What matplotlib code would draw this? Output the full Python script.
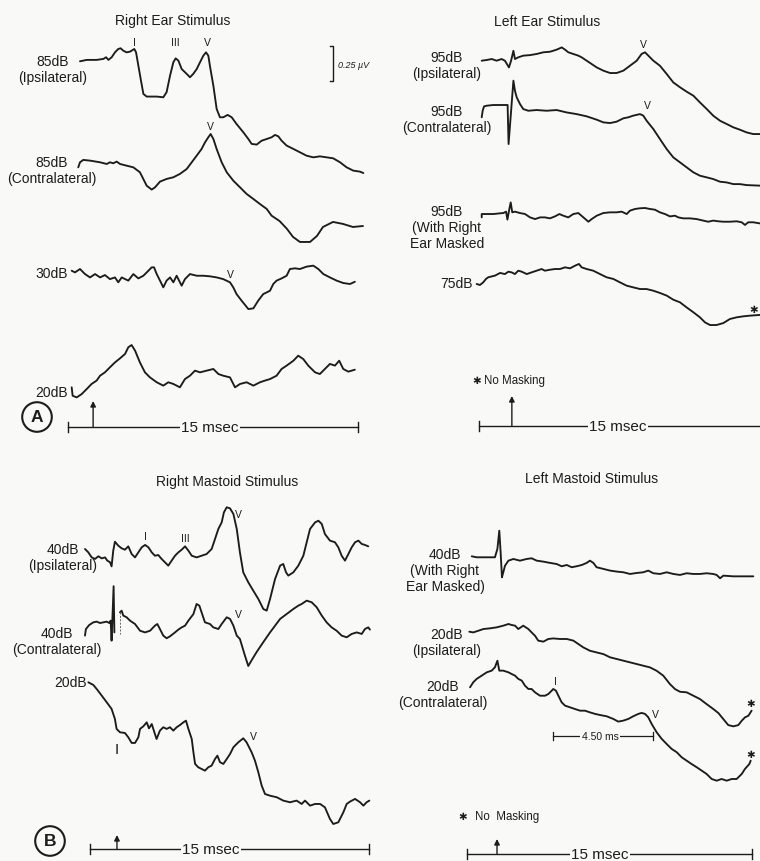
import numpy as np
import matplotlib.pyplot as plt

plt.rcParams['font.family'] = ['Liberation Sans', 'DejaVu Sans']

W, H = 760, 862          # output size in pixels
PX_PER_UV = 140.0        # vertical gain: 0.25 uV = 35 px
INK = '#1c1c1c'
BG = '#f9f9f7'

# ---------------- traces: (time in ms, amplitude in uV) ----------------
# Right ear stimulus
re85_ipsi = [(0.62, 0), (0.97, 0.01), (1.48, 0.01), (1.83, 0.017), (1.97, 0.029), (2.09, 0.01),
             (2.26, 0.029), (2.43, 0.064), (2.60, 0.088), (2.72, 0.093), (2.86, 0.076), (3.03, 0.064),
             (3.21, 0.069), (3.43, 0.088), (3.52, 0.064), (3.64, -0.031), (3.76, -0.126), (3.90, -0.233),
             (4.07, -0.252), (4.59, -0.252), (4.93, -0.257), (5.10, -0.221), (5.28, -0.102), (5.45, -0.007),
             (5.57, 0.021), (5.71, 0.005), (5.88, -0.055), (6.14, -0.090), (6.31, -0.114), (6.48, -0.090),
             (6.66, -0.055), (6.83, -0.007), (7.00, 0.040), (7.14, 0.064), (7.26, 0.040), (7.34, -0.031),
             (7.52, -0.174), (7.69, -0.340), (7.86, -0.400), (8.03, -0.400), (8.26, -0.383), (8.47, -0.400),
             (8.72, -0.448), (9.07, -0.507), (9.33, -0.555), (9.50, -0.590), (9.76, -0.595), (10.02, -0.567),
             (10.28, -0.555), (10.53, -0.543), (10.71, -0.526), (10.88, -0.536), (11.05, -0.567),
             (11.31, -0.602), (11.66, -0.626), (12.00, -0.650), (12.34, -0.674), (12.69, -0.686),
             (13.03, -0.679), (13.38, -0.686), (13.72, -0.693), (14.07, -0.721), (14.41, -0.757),
             (14.76, -0.781), (15.10, -0.788), (15.28, -0.798)]
re85_contra = [(0.53, -0.036), (0.62, 0), (0.79, 0.017), (1.14, 0.012), (1.66, 0), (2.00, -0.012),
               (2.17, 0), (2.34, -0.007), (2.52, 0.005), (2.69, -0.012), (3.03, -0.024), (3.38, -0.036),
               (3.72, -0.071), (4.07, -0.167), (4.33, -0.195), (4.50, -0.179), (4.76, -0.138),
               (5.10, -0.119), (5.45, -0.107), (5.79, -0.083), (6.14, -0.048), (6.40, 0), (6.66, 0.048),
               (6.91, 0.095), (7.09, 0.143), (7.26, 0.179), (7.38, 0.202), (7.52, 0.167), (7.69, 0.095),
               (7.95, 0), (8.21, -0.071), (8.55, -0.131), (8.90, -0.179), (9.24, -0.226), (9.59, -0.262),
               (9.93, -0.298), (10.28, -0.333), (10.53, -0.381), (10.95, -0.420), (11.33, -0.476),
               (11.64, -0.533), (12.00, -0.569), (12.52, -0.569), (12.88, -0.526), (13.19, -0.462),
               (13.71, -0.426), (14.22, -0.440), (14.74, -0.462), (15.26, -0.455)]
re30 = [(0.19, 0), (0.36, -0.012), (0.62, 0.012), (0.88, -0.024), (1.14, -0.048), (1.40, -0.024),
        (1.66, -0.048), (1.91, -0.031), (2.17, -0.060), (2.43, -0.048), (2.60, -0.083), (2.78, -0.048),
        (3.12, -0.071), (3.38, -0.024), (3.64, -0.055), (3.90, -0.036), (4.16, 0), (4.33, 0.024),
        (4.45, 0.024), (4.59, -0.024), (4.76, -0.071), (4.93, -0.119), (5.10, -0.071), (5.28, -0.048),
        (5.45, -0.083), (5.62, -0.036), (5.88, -0.107), (6.05, -0.060), (6.31, -0.024), (6.66, -0.036),
        (7.00, -0.036), (7.34, -0.040), (7.69, -0.048), (8.03, -0.060), (8.38, -0.083), (8.55, -0.119),
        (8.72, -0.167), (8.98, -0.214), (9.33, -0.274), (9.59, -0.269), (9.84, -0.214), (10.10, -0.167),
        (10.28, -0.155), (10.45, -0.143), (10.62, -0.095), (10.79, -0.071), (11.05, -0.055),
        (11.31, -0.036), (11.48, 0.012), (11.74, 0.017), (12.00, 0.012), (12.34, 0.029), (12.69, 0.036),
        (12.95, 0.012), (13.21, -0.024), (13.55, -0.048), (13.90, -0.071), (14.24, -0.088),
        (14.59, -0.095), (14.84, -0.079)]
re20 = [(0.19, 0.012), (0.24, -0.048), (0.45, -0.060), (0.71, -0.036), (0.97, 0), (1.22, 0.036),
        (1.48, 0.060), (1.66, 0.095), (1.91, 0.119), (2.17, 0.155), (2.43, 0.190), (2.69, 0.219),
        (2.95, 0.250), (3.12, 0.298), (3.29, 0.314), (3.47, 0.274), (3.72, 0.190), (3.98, 0.119),
        (4.24, 0.083), (4.59, 0.048), (4.93, 0.024), (5.19, 0.048), (5.45, 0.036), (5.79, 0.012),
        (6.05, 0.071), (6.31, 0.095), (6.57, 0.131), (6.83, 0.119), (7.17, 0.131), (7.52, 0.143),
        (7.78, 0.107), (8.03, 0.095), (8.38, 0.083), (8.64, 0.012), (8.90, 0.036), (9.24, 0.048),
        (9.59, 0.024), (9.93, 0.048), (10.19, 0.060), (10.45, 0.071), (10.79, 0.095), (11.05, 0.143),
        (11.31, 0.167), (11.66, 0.202), (11.91, 0.238), (12.17, 0.214), (12.43, 0.167), (12.78, 0.119),
        (13.03, 0.107), (13.29, 0.143), (13.55, 0.179), (13.81, 0.167), (14.03, 0.202), (14.24, 0.143),
        (14.50, 0.124), (14.84, 0.138)]

# Left ear stimulus
le95_ipsi = [(0.14, 0), (0.40, 0.005), (0.66, 0.012), (0.91, 0), (1.17, 0.012), (1.34, 0), (1.55, -0.048),
             (1.66, 0), (1.78, 0.071), (1.86, 0.012), (2.03, 0.024), (2.29, 0.036), (2.64, 0.040),
             (2.98, 0.048), (3.33, 0.060), (3.67, 0.064), (3.84, 0.071), (4.02, 0.079), (4.28, 0.095),
             (4.45, 0.079), (4.62, 0.060), (4.88, 0.048), (5.14, 0.036), (5.31, 0.024), (5.57, 0),
             (5.83, -0.024), (6.09, -0.048), (6.43, -0.071), (6.78, -0.088), (7.12, -0.088), (7.47, -0.071),
             (7.81, -0.036), (8.16, 0), (8.41, 0.048), (8.59, 0.060), (8.76, 0.036), (9.02, 0),
             (9.36, -0.036), (9.71, -0.095), (10.05, -0.155), (10.40, -0.190), (10.74, -0.221),
             (11.09, -0.250), (11.43, -0.298), (11.78, -0.345), (12.12, -0.393), (12.47, -0.429),
             (12.81, -0.452), (13.16, -0.476), (13.50, -0.493), (13.84, -0.512), (14.19, -0.524),
             (14.53, -0.524)]
le95_contra = [(0.14, -0.083), (0.19, -0.036), (0.26, -0.005), (0.40, 0), (0.74, 0.005), (1.17, 0.005),
               (1.48, 0.005), (1.53, -0.274), (1.78, 0.179), (1.86, 0.107), (1.95, 0.060), (2.12, 0.012),
               (2.29, -0.024), (2.55, -0.036), (2.98, -0.031), (3.50, -0.036), (4.02, -0.031),
               (4.53, -0.048), (5.05, -0.060), (5.57, -0.076), (6.09, -0.100), (6.43, -0.119),
               (6.78, -0.124), (7.12, -0.114), (7.47, -0.090), (7.72, -0.083), (7.98, -0.071),
               (8.33, -0.060), (8.50, -0.071), (8.67, -0.107), (9.02, -0.167), (9.36, -0.238),
               (9.71, -0.310), (10.05, -0.369), (10.40, -0.405), (10.74, -0.440), (11.09, -0.476),
               (11.43, -0.500), (11.78, -0.512), (12.12, -0.524), (12.47, -0.543), (12.81, -0.548),
               (13.16, -0.560), (13.50, -0.560), (13.84, -0.567), (14.53, -0.571)]
le95_masked = [(0.14, -0.017), (0.14, 0.007), (0.40, 0.007), (0.74, 0.007), (1.09, 0.012), (1.26, 0.014),
               (1.40, 0.024), (1.47, -0.033), (1.57, 0.043), (1.64, 0.090), (1.72, 0.019), (1.86, 0.024),
               (2.12, 0.014), (2.38, 0.007), (2.64, -0.017), (2.90, -0.029), (3.16, -0.017), (3.41, -0.017),
               (3.67, -0.024), (3.93, -0.010), (4.16, 0.007), (4.36, -0.005), (4.62, -0.017), (4.88, 0.007),
               (5.14, 0.014), (5.40, -0.017), (5.66, -0.048), (5.83, -0.029), (6.09, -0.005), (6.43, 0.014),
               (6.78, 0.019), (7.12, 0.019), (7.38, 0.024), (7.64, 0.007), (7.81, 0.031), (8.07, 0.043),
               (8.33, 0.048), (8.59, 0.050), (8.84, 0.043), (9.10, 0.038), (9.36, 0.019), (9.62, 0.007),
               (9.88, -0.010), (10.14, -0.005), (10.31, -0.017), (10.57, -0.024), (10.91, -0.024),
               (11.26, -0.029), (11.60, -0.040), (11.86, -0.048), (12.12, -0.040), (12.38, -0.045),
               (12.64, -0.048), (12.98, -0.048), (13.33, -0.045), (13.59, -0.052), (13.76, -0.071),
               (13.93, -0.052), (14.19, -0.052), (14.53, -0.060)]
le75 = [(-0.12, 0), (0.05, -0.007), (0.22, 0.012), (0.36, 0.036), (0.48, 0.048), (0.83, 0.060),
        (1.09, 0.079), (1.34, 0.071), (1.52, 0.088), (1.69, 0.083), (1.86, 0.071), (2.03, 0.095),
        (2.21, 0.088), (2.47, 0.071), (2.72, 0.083), (2.98, 0.095), (3.24, 0.107), (3.41, 0.095),
        (3.67, 0.102), (3.93, 0.107), (4.19, 0.107), (4.45, 0.119), (4.71, 0.112), (4.97, 0.131),
        (5.17, 0.143), (5.31, 0.119), (5.57, 0.107), (5.91, 0.095), (6.26, 0.071), (6.60, 0.048),
        (6.95, 0.036), (7.29, 0.012), (7.64, -0.012), (7.98, -0.024), (8.33, -0.036), (8.67, -0.036),
        (9.02, -0.048), (9.36, -0.064), (9.71, -0.083), (10.05, -0.112), (10.40, -0.131), (10.74, -0.167),
        (11.09, -0.202), (11.43, -0.238), (11.69, -0.274), (11.95, -0.293), (12.29, -0.293),
        (12.64, -0.279), (12.98, -0.250), (13.33, -0.238), (13.67, -0.231), (14.02, -0.226),
        (14.53, -0.221)]

# Right mastoid stimulus
rm40_ipsi = [(-0.27, 0), (-0.09, -0.024), (0.09, -0.060), (0.27, -0.071), (0.45, -0.052), (0.63, -0.067),
             (0.81, -0.060), (0.93, -0.083), (1.08, -0.095), (1.16, -0.124), (1.25, -0.012), (1.34, 0.052),
             (1.52, 0.024), (1.70, 0.005), (1.88, -0.005), (2.06, 0.019), (2.24, -0.036), (2.42, -0.060),
             (2.60, -0.024), (2.78, 0.012), (2.96, 0.029), (3.14, 0.012), (3.32, -0.024), (3.49, -0.048),
             (3.67, -0.043), (3.85, -0.071), (4.03, -0.095), (4.21, -0.119), (4.39, -0.083), (4.57, -0.048),
             (4.75, -0.024), (4.93, -0.005), (5.11, 0.019), (5.29, -0.012), (5.47, -0.048), (5.73, -0.060),
             (6.00, -0.048), (6.27, -0.036), (6.54, 0), (6.72, 0.071), (6.90, 0.143), (7.08, 0.190),
             (7.20, 0.262), (7.35, 0.298), (7.53, 0.290), (7.71, 0.250), (7.89, 0.143), (8.06, -0.024),
             (8.24, -0.167), (8.51, -0.238), (8.78, -0.298), (9.05, -0.357), (9.32, -0.429), (9.50, -0.440),
             (9.68, -0.357), (9.95, -0.214), (10.22, -0.119), (10.39, -0.107), (10.54, -0.167),
             (10.66, -0.190), (10.93, -0.167), (11.20, -0.119), (11.47, -0.048), (11.65, 0.048),
             (11.83, 0.143), (12.10, 0.190), (12.28, 0.202), (12.46, 0.179), (12.63, 0.107), (12.90, 0.060),
             (13.17, 0.048), (13.35, 0.012), (13.53, -0.048), (13.71, -0.083), (13.89, -0.036),
             (14.07, 0.012), (14.25, 0.048), (14.43, 0.060), (14.61, 0.036), (14.78, 0.029), (14.96, 0.019)]
rm40_contra = [(-0.27, -0.083), (-0.22, -0.036), (-0.04, -0.007), (0.18, 0.012), (0.36, 0.017), (0.54, 0.007),
               (0.72, 0.012), (0.90, 0.017), (1.04, 0.007), (1.11, 0.024), (1.16, -0.119), (1.27, 0.27),
               (1.31, -0.060), (np.nan, np.nan),
               (1.61, 0.083), (1.70, 0.095), (1.79, 0.060), (1.97, 0.048), (2.15, 0.024), (2.42, 0),
               (2.69, -0.048), (2.96, -0.060), (3.23, -0.048), (3.49, -0.012), (3.62, 0), (3.76, -0.036),
               (3.94, -0.083), (4.12, -0.102), (4.30, -0.088), (4.57, -0.060), (4.75, -0.040), (4.93, -0.024),
               (5.11, -0.012), (5.29, 0.024), (5.56, 0.071), (5.73, 0.143), (5.88, 0.131), (6.00, 0.083),
               (6.18, 0.012), (6.45, 0), (6.63, -0.024), (6.90, -0.036), (7.08, 0), (7.35, 0.048),
               (7.53, 0.036), (7.71, -0.012), (7.89, -0.083), (8.06, -0.107), (8.33, -0.226), (8.51, -0.300),
               (8.73, -0.250), (8.96, -0.200), (9.32, -0.129), (9.68, -0.060), (9.95, -0.012), (10.22, 0.036),
               (10.57, 0.071), (10.93, 0.107), (11.20, 0.131), (11.38, 0.143), (11.65, 0.167), (11.92, 0.155),
               (12.19, 0.119), (12.46, 0.060), (12.72, 0.012), (12.99, -0.024), (13.26, -0.048),
               (13.53, -0.083), (13.80, -0.095), (14.07, -0.071), (14.34, -0.060), (14.61, -0.071),
               (14.78, -0.036), (14.96, -0.024), (15.05, -0.040)]
rm20 = [(-0.09, 0), (0.18, -0.019), (0.36, -0.048), (0.63, -0.095), (0.90, -0.143), (1.16, -0.190),
        (1.34, -0.262), (1.43, -0.333), (1.61, -0.357), (1.88, -0.362), (2.06, -0.393), (2.24, -0.433),
        (2.42, -0.433), (2.60, -0.393), (2.69, -0.333), (2.87, -0.314), (3.05, -0.286), (3.17, -0.329),
        (3.32, -0.298), (3.49, -0.369), (3.58, -0.405), (3.76, -0.345), (3.94, -0.321), (4.12, -0.333),
        (4.30, -0.321), (4.48, -0.345), (4.66, -0.321), (4.84, -0.305), (5.02, -0.286), (5.16, -0.274),
        (5.29, -0.333), (5.47, -0.405), (5.56, -0.500), (5.65, -0.583), (5.82, -0.607), (6.00, -0.619),
        (6.18, -0.631), (6.36, -0.607), (6.54, -0.595), (6.72, -0.548), (6.85, -0.524), (6.99, -0.571),
        (7.17, -0.583), (7.35, -0.548), (7.53, -0.512), (7.71, -0.464), (7.97, -0.429), (8.24, -0.400),
        (8.42, -0.429), (8.69, -0.500), (8.87, -0.560), (9.05, -0.643), (9.23, -0.738), (9.41, -0.798),
        (9.68, -0.810), (10.04, -0.821), (10.39, -0.845), (10.75, -0.857), (11.11, -0.845),
        (11.38, -0.869), (11.56, -0.845), (11.83, -0.881), (12.10, -0.869), (12.37, -0.869),
        (12.63, -0.893), (12.90, -0.976), (13.08, -1.012), (13.35, -1.000), (13.62, -0.929),
        (13.80, -0.869), (13.98, -0.852), (14.25, -0.833), (14.52, -0.857), (14.70, -0.881),
        (14.87, -0.857), (15.02, -0.845)]

# Left mastoid stimulus
lm40_masked = [(0.25, 0.007), (0.51, 0), (0.86, 0), (1.21, 0), (1.47, 0), (1.60, 0.060), (1.70, 0.190),
               (1.77, 0.036), (1.84, -0.143), (1.91, -0.107), (2.00, -0.060), (2.18, -0.024), (2.44, -0.012),
               (2.79, -0.024), (3.14, -0.012), (3.40, -0.007), (3.67, -0.024), (4.02, -0.031), (4.37, -0.040),
               (4.72, -0.048), (4.98, -0.064), (5.25, -0.055), (5.51, -0.071), (5.77, -0.064), (6.04, -0.055),
               (6.30, -0.040), (6.47, -0.024), (6.65, -0.040), (6.82, -0.071), (7.18, -0.083), (7.53, -0.095),
               (7.88, -0.102), (8.23, -0.107), (8.58, -0.119), (8.93, -0.112), (9.28, -0.107), (9.54, -0.095),
               (9.81, -0.114), (10.16, -0.119), (10.51, -0.107), (10.86, -0.119), (11.21, -0.126),
               (11.56, -0.114), (11.91, -0.119), (12.26, -0.119), (12.61, -0.114), (12.96, -0.119),
               (13.14, -0.126), (13.32, -0.150), (13.49, -0.131), (14.02, -0.136), (14.54, -0.136),
               (15.07, -0.136)]
lm20_ipsi = [(0.12, 0), (0.33, -0.005), (0.60, 0.007), (0.86, 0.019), (1.21, 0.024), (1.56, 0.031),
             (1.91, 0.043), (2.18, 0.055), (2.35, 0.048), (2.53, 0.043), (2.70, 0.019), (2.96, 0.043),
             (3.23, 0.019), (3.40, -0.005), (3.58, -0.029), (3.75, -0.064), (4.02, -0.071), (4.28, -0.052),
             (4.54, -0.048), (4.89, -0.052), (5.25, -0.052), (5.60, -0.064), (5.86, -0.088), (6.12, -0.112),
             (6.47, -0.136), (6.82, -0.148), (7.18, -0.160), (7.53, -0.183), (7.88, -0.195), (8.23, -0.207),
             (8.58, -0.219), (8.93, -0.231), (9.28, -0.243), (9.63, -0.255), (9.98, -0.279), (10.33, -0.314),
             (10.68, -0.374), (10.95, -0.410), (11.21, -0.429), (11.56, -0.433), (11.91, -0.457),
             (12.26, -0.481), (12.61, -0.517), (12.96, -0.552), (13.23, -0.581), (13.49, -0.624),
             (13.75, -0.667), (14.02, -0.676), (14.28, -0.667), (14.46, -0.636), (14.63, -0.612),
             (14.81, -0.600), (14.98, -0.564)]
lm20_contra = [(0.16, 0), (0.33, 0.036), (0.51, 0.060), (0.77, 0.083), (1.04, 0.107), (1.30, 0.119),
               (1.47, 0.143), (1.60, 0.190), (1.70, 0.119), (1.91, 0.119), (2.18, 0.107), (2.35, 0.095),
               (2.53, 0.083), (2.70, 0.060), (2.88, 0.048), (3.05, 0.012), (3.23, -0.012), (3.40, -0.012),
               (3.58, -0.036), (3.84, -0.060), (4.11, -0.060), (4.28, -0.048), (4.46, -0.024), (4.54, -0.012),
               (4.68, -0.024), (4.81, -0.060), (4.98, -0.107), (5.16, -0.131), (5.42, -0.143), (5.68, -0.155),
               (5.95, -0.167), (6.21, -0.167), (6.47, -0.179), (6.74, -0.190), (7.00, -0.198), (7.35, -0.207),
               (7.70, -0.226), (7.96, -0.245), (8.23, -0.238), (8.49, -0.226), (8.75, -0.207), (9.02, -0.190),
               (9.19, -0.183), (9.37, -0.190), (9.54, -0.214), (9.72, -0.262), (9.98, -0.321), (10.25, -0.369),
               (10.51, -0.405), (10.77, -0.440), (11.04, -0.464), (11.30, -0.500), (11.56, -0.524),
               (11.82, -0.548), (12.09, -0.571), (12.35, -0.595), (12.61, -0.619), (12.88, -0.655),
               (13.14, -0.667), (13.40, -0.655), (13.67, -0.667), (13.93, -0.655), (14.19, -0.655),
               (14.46, -0.619), (14.63, -0.583), (14.86, -0.548), (14.93, -0.524)]

# ---------------- layout (pixels) ----------------
fig = plt.figure(figsize=(W / 100, H / 100), dpi=100, facecolor=BG)


def px(x, y):
    return x / W, 1 - y / H


def ftext(x, y, s, **kw):
    kw.setdefault('color', INK)
    fig.text(*px(x, y), s, **kw)


def panel(x0, s):
    # x0: pixel column of 0 ms, s: pixels per ms
    ax = fig.add_axes([0, 0, 1, 1])
    ax.set_xlim(-x0 / s, (W - x0) / s)
    ax.set_ylim(-H / PX_PER_UV, 0)
    ax.axis('off')
    ax.patch.set_alpha(0)
    return ax


def trace(ax, pts, row, **kw):
    t, v = np.array(pts, dtype=float).T
    ax.plot(t, v - row / PX_PER_UV, color=INK, lw=1.35, solid_joinstyle='round',
            solid_capstyle='round', **kw)


def timebar(ax, row, t_arrow, arrow_px, t_label):
    y = -row / PX_PER_UV
    tick = 5 / PX_PER_UV
    ax.plot([0, 15], [y, y], color=INK, lw=1.0)
    for e in (0, 15):
        ax.plot([e, e], [y - tick, y + tick], color=INK, lw=1.0)
    ax.annotate('', xy=(t_arrow, y + arrow_px / PX_PER_UV), xytext=(t_arrow, y),
                arrowprops=dict(arrowstyle='-|>', color=INK, lw=1.0, mutation_scale=8,
                                shrinkA=0, shrinkB=0))
    ax.text(t_label, y, '15 msec', ha='center', va='center', fontsize=11, color=INK,
            bbox=dict(fc=BG, ec='none', pad=1.0))


# Panel A: right ear
axA = panel(68, 19.33)
for pts, row in [(re85_ipsi, 62.3), (re85_contra, 163.3), (re30, 271.7), (re20, 390)]:
    trace(axA, pts, row)
timebar(axA, 428, 1.3, 26, 7.35)
# 0.25 uV calibration bracket
yb = -47 / PX_PER_UV
axA.plot([13.55, 13.71, 13.71, 13.55], [yb, yb, yb - 0.25, yb - 0.25], color=INK, lw=1.0)

# Panel top right: left ear
axR = panel(479, 19.33)
for pts, row in [(le95_ipsi, 61.7), (le95_contra, 106.7), (le95_masked, 216), (le75, 285)]:
    trace(axR, pts, row)
timebar(axR, 427, 1.7, 30, 7.2)

# Panel B: right mastoid
axB = panel(90, 18.6)
for pts, row in [(rm40_ipsi, 550), (rm40_contra, 625), (rm20, 683.3)]:
    trace(axB, pts, row)
axB.plot([1.59, 1.59], [-613 / PX_PER_UV, -635 / PX_PER_UV], color='#666666', lw=0.7, ls=(0, (2, 1.5)))
timebar(axB, 850, 1.45, 14, 6.5)

# Panel bottom right: left mastoid
axC = panel(467, 19.0)
for pts, row in [(lm40_masked, 558.3), (lm20_ipsi, 632.7), (lm20_contra, 688.3)]:
    trace(axC, pts, row)
timebar(axC, 855, 1.58, 15, 7.0)
# I-V interval bar
yi = -737 / PX_PER_UV
ti = 4.3 / PX_PER_UV
axC.plot([4.53, 9.79], [yi, yi], color=INK, lw=0.9)
for e in (4.53, 9.79):
    axC.plot([e, e], [yi - ti, yi + ti], color=INK, lw=0.9)
axC.text(7.0, yi, '4.50 ms', ha='center', va='center', fontsize=7.5, color=INK,
         bbox=dict(fc=BG, ec='none', pad=0.8))

# ---------------- text ----------------
lab = dict(fontsize=10, ha='center', va='center', linespacing=1.2)
ttl = dict(fontsize=10, ha='center', va='center')
ftext(173, 21, 'Right Ear Stimulus', **ttl)
ftext(547, 22, 'Left Ear Stimulus', **ttl)
ftext(227, 482, 'Right Mastoid Stimulus', **ttl)
ftext(592, 479, 'Left Mastoid Stimulus', **ttl)

ftext(53, 70, '85dB\n(Ipsilateral)', **lab)
ftext(52, 171, '85dB\n(Contralateral)', **lab)
ftext(68, 274, '30dB', fontsize=10, ha='right', va='center')
ftext(68, 393, '20dB', fontsize=10, ha='right', va='center')

ftext(447, 66, '95dB\n(Ipsilateral)', **lab)
ftext(447, 120, '95dB\n(Contralateral)', **lab)
ftext(447, 228, '95dB\n(With Right\nEar Masked', **lab)
ftext(473, 284, '75dB', fontsize=10, ha='right', va='center')

ftext(63, 558, '40dB\n(Ipsilateral)', **lab)
ftext(57, 642, '40dB\n(Contralateral)', **lab)
ftext(87, 683, '20dB', fontsize=10, ha='right', va='center')

ftext(445, 571, '40dB\n(With Right\nEar Masked)', **lab)
ftext(447, 643, '20dB\n(Ipsilateral)', **lab)
ftext(443, 695, '20dB\n(Contralateral)', **lab)

pk = dict(fontsize=7.5, ha='center', va='center')
for x, y, s in [(134, 43, 'I'), (175, 43, 'III'), (207, 43, 'V'), (210, 127, 'V'), (230, 275, 'V'),
                (643, 45, 'V'), (647, 106, 'V'),
                (145, 537, 'I'), (185, 539, 'III'), (238, 515, 'V'), (238, 615, 'V'), (253, 737, 'V'),
                (555, 682, 'I'), (655, 715, 'V')]:
    ftext(x, y, s, **pk)
ftext(117, 750, 'I', fontsize=11, ha='center', va='center')

ftext(338, 65, '0.25 \u00b5V', fontsize=6.5, ha='left', va='center', style='italic')

star = dict(fontsize=7.5, ha='center', va='center', family='DejaVu Sans')
for x, y in [(754, 310), (751, 704), (751, 755), (477, 381), (463, 817)]:
    ftext(x, y, '\u2731', **star)
ftext(484, 381, 'No Masking', fontsize=8.3, ha='left', va='center')
ftext(475, 817, 'No  Masking', fontsize=8.3, ha='left', va='center')

circ = dict(boxstyle='circle,pad=0.42', fc=BG, ec=INK, lw=1.5)
ftext(37, 418, 'A', fontsize=12.5, fontweight='bold', ha='center', va='center', bbox=circ)
ftext(50, 842, 'B', fontsize=12.5, fontweight='bold', ha='center', va='center', bbox=circ)

fig.savefig('out.png', dpi=100, facecolor=BG)
